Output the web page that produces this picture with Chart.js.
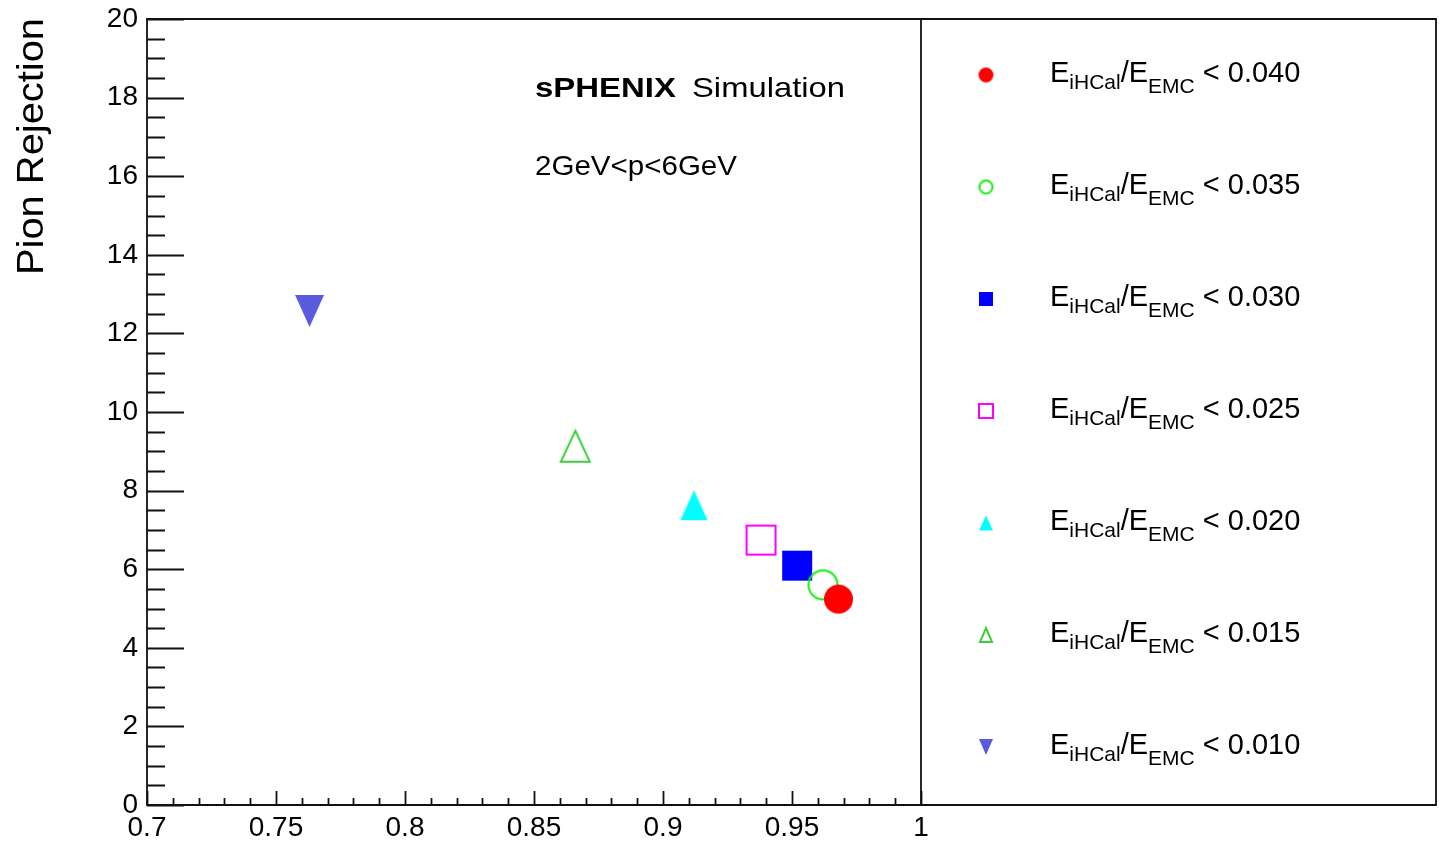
<!DOCTYPE html>
<html>
<head>
<meta charset="utf-8">
<title>Pion Rejection</title>
<script src="https://cdn.jsdelivr.net/npm/chart.js@4.4.1/dist/chart.umd.min.js"></script>
<style>
  body { margin: 0; background: #fff; }
  canvas { display: block; }
</style>
</head>
<body>
<canvas id="pionChart" width="1439" height="842"></canvas>
<script>
// E_iHCal/E_EMC cut values, electron efficiency and pion rejection per cut
const cuts = ['0.040', '0.035', '0.030', '0.025', '0.020', '0.015', '0.010'];
const efficiency = [0.968, 0.962, 0.952, 0.938, 0.912, 0.866, 0.763];
const rejection = [5.24, 5.60, 6.09, 6.74, 7.63, 9.13, 12.57];

// axis ranges and labelled ticks
const xRange = [0.7, 1.0];
const yRange = [0, 20];
const xLabelStep = 0.05;
const yLabelStep = 2;

const FONT = '"Liberation Sans", Arial, Helvetica, sans-serif';

// marker look for each cut: shape, colour, filled, size in plot, size in legend
const markers = [
  { shape: 'circle', color: '#ff0000', filled: true,  plot: [29, 29], key: [15, 15] },
  { shape: 'circle', color: '#10ee10', filled: false, plot: [31, 31], key: [15, 15] },
  { shape: 'square', color: '#0000ff', filled: true,  plot: [30, 30], key: [14, 14] },
  { shape: 'square', color: '#ff00ff', filled: false, plot: [31, 31], key: [16, 16] },
  { shape: 'up',     color: '#00ffff', filled: true,  plot: [27, 30], key: [14, 15] },
  { shape: 'up',     color: '#3ccf3c', filled: false, plot: [31, 33], key: [14, 16] },
  { shape: 'down',   color: '#5a5adc', filled: true,  plot: [29, 32], key: [14, 16] }
];

// small canvas with a ROOT style marker, centred in its box
function makeMarker(m, size) {
  const lw = m.filled ? 0 : 2;
  const pad = 2;
  const w = size[0], h = size[1];
  const c = document.createElement('canvas');
  c.width = w + 2 * pad;
  c.height = h + 2 * pad;
  const g = c.getContext('2d');
  const cx = c.width / 2, cy = c.height / 2;
  const hw = w / 2 - lw / 2, hh = h / 2 - lw / 2;
  g.beginPath();
  if (m.shape === 'circle') {
    g.arc(cx, cy, hw, 0, Math.PI * 2);
  } else if (m.shape === 'square') {
    g.rect(cx - hw, cy - hh, hw * 2, hh * 2);
  } else if (m.shape === 'up') {
    g.moveTo(cx, cy - hh);
    g.lineTo(cx + hw, cy + hh);
    g.lineTo(cx - hw, cy + hh);
    g.closePath();
  } else {
    g.moveTo(cx - hw, cy - hh);
    g.lineTo(cx + hw, cy - hh);
    g.lineTo(cx, cy + hh);
    g.closePath();
  }
  if (m.filled) {
    g.fillStyle = m.color;
    g.fill();
  } else {
    g.strokeStyle = m.color;
    g.lineWidth = lw;
    g.stroke();
  }
  return c;
}

const plotMarkers = markers.map(m => makeMarker(m, m.plot));
const keyMarkers = markers.map(m => makeMarker(m, m.key));

function isMultiple(v, step) {
  const r = v / step;
  return Math.abs(r - Math.round(r)) < 1e-6;
}

// text squeezed or stretched to a given width
function fitText(ctx, text, x, y, width) {
  const w = ctx.measureText(text).width;
  ctx.save();
  ctx.translate(x, y);
  ctx.scale(width / w, 1);
  ctx.fillText(text, 0, 0);
  ctx.restore();
}

// frame, inward ticks, labels and the legend box
const rootStyle = {
  id: 'rootStyle',
  afterDraw(chart) {
    const ctx = chart.ctx;
    const a = chart.chartArea;
    const xs = chart.scales.x, ys = chart.scales.y;
    const boxRight = 1436;

    ctx.save();
    ctx.strokeStyle = '#111';
    ctx.lineWidth = 1.8;

    // tick marks pointing into the pad
    ctx.beginPath();
    ys.ticks.forEach(t => {
      const py = Math.round(ys.getPixelForValue(t.value)) + 0.5;
      const len = isMultiple(t.value, yLabelStep) ? 37 : 18;
      ctx.moveTo(a.left, py);
      ctx.lineTo(a.left + len, py);
    });
    xs.ticks.forEach(t => {
      const px = Math.round(xs.getPixelForValue(t.value)) + 0.5;
      const len = isMultiple(t.value, xLabelStep) ? 14 : 7;
      ctx.moveTo(px, a.bottom);
      ctx.lineTo(px, a.bottom - len);
    });
    ctx.stroke();

    // pad frame and legend frame
    ctx.beginPath();
    ctx.rect(a.left, a.top, boxRight - a.left, a.bottom - a.top);
    ctx.moveTo(a.right, a.top);
    ctx.lineTo(a.right, a.bottom);
    ctx.stroke();

    ctx.fillStyle = '#000';
    ctx.textAlign = 'left';
    ctx.textBaseline = 'alphabetic';

    // y axis title, right aligned at the top
    ctx.font = '36px ' + FONT;
    ctx.save();
    ctx.translate(43, 275);
    ctx.rotate(-Math.PI / 2);
    fitText(ctx, 'Pion Rejection', 0, 0, 257);
    ctx.restore();

    // labels in the pad
    ctx.font = 'bold 28px ' + FONT;
    fitText(ctx, 'sPHENIX', 535, 97, 141);
    ctx.font = '28px ' + FONT;
    fitText(ctx, 'Simulation', 692, 97, 153);
    fitText(ctx, '2GeV<p<6GeV', 535, 175, 202);

    // legend entries
    const rowTop = 75, rowStep = 112;
    cuts.forEach((cut, i) => {
      const cy = rowTop + rowStep * i;
      const img = keyMarkers[i];
      ctx.drawImage(img, 986 - img.width / 2, cy - img.height / 2);

      let x = 1050;
      const piece = (txt, size, dy) => {
        ctx.font = size + 'px ' + FONT;
        ctx.fillText(txt, x, cy + dy);
        x += ctx.measureText(txt).width;
      };
      piece('E', 29, 7);
      piece('iHCal', 21, 14);
      piece('/E', 29, 7);
      piece('EMC', 21, 18);
      piece(' < ' + cut, 29, 7);
    });
    ctx.restore();
  }
};

const datasets = cuts.map((cut, i) => ({
  label: 'E_iHCal/E_EMC < ' + cut,
  data: [{ x: efficiency[i], y: rejection[i] }],
  pointStyle: plotMarkers[i],
  pointRadius: 16,
  showLine: false
}));

new Chart(document.getElementById('pionChart'), {
  type: 'scatter',
  data: { datasets },
  options: {
    responsive: false,
    animation: false,
    events: [],
    layout: { padding: { top: 19, right: 518, left: 0, bottom: 0 } },
    plugins: {
      legend: { display: false },
      tooltip: { enabled: false }
    },
    scales: {
      x: {
        type: 'linear',
        min: xRange[0],
        max: xRange[1],
        afterFit: s => {
          s.height = 37;
          s.paddingLeft = 0;
          s.paddingRight = 0;
        },
        border: { display: false },
        grid: { display: false, drawTicks: false },
        ticks: {
          stepSize: 0.01,
          autoSkip: false,
          maxRotation: 0,
          minRotation: 0,
          padding: 6,
          color: '#000',
          font: { family: FONT, size: 28 },
          callback: v => isMultiple(v, xLabelStep) ? String(+v.toFixed(2)) : ''
        }
      },
      y: {
        type: 'linear',
        min: yRange[0],
        max: yRange[1],
        afterFit: s => {
          s.width = 147;
          s.paddingTop = 0;
          s.paddingBottom = 0;
        },
        border: { display: false },
        grid: { display: false, drawTicks: false },
        ticks: {
          stepSize: 0.5,
          autoSkip: false,
          padding: 9,
          color: '#000',
          font: { family: FONT, size: 28 },
          callback: v => isMultiple(v, yLabelStep) ? String(v) : ''
        }
      }
    }
  },
  plugins: [rootStyle]
});
</script>
</body>
</html>
